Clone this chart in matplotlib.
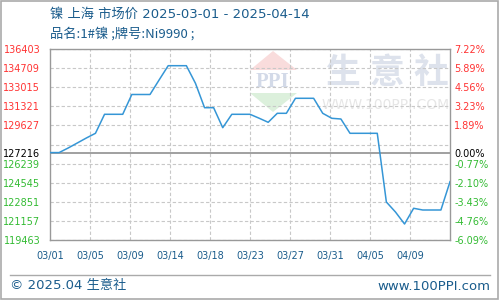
import matplotlib
matplotlib.use("Agg")
import matplotlib.pyplot as plt
from matplotlib.patches import Polygon, Rectangle
from matplotlib.lines import Line2D
import numpy as np

plt.rcParams['font.family'] = ['DejaVu Sans', 'Noto Sans CJK SC']

##### data #####
title = "镍 上海 市场价 2025-03-01 - 2025-04-14"
subtitle = "品名:1#镍 ;牌号:Ni9990 ;"
# daily prices 03/01 .. 04/14 (45 days)
prices = [127216, 127216, 127623, 128066, 128510, 128926, 130612, 130612, 130612,
          132368, 132368, 132368, 133654, 134922, 134922, 134922, 133361, 131197,
          131197, 129423, 130612, 130612, 130612, 130266, 129902, 130700, 130700,
          132031, 132031, 132031, 130700, 130257, 130195, 128926, 128926, 128926,
          128926, 122833, 121947, 120882, 122275, 122124, 122124, 122124, 124634]
base_price = 127216
date_labels = ['03/01', '03/05', '03/09', '03/14', '03/18', '03/23', '03/27', '03/31', '04/05', '04/09']
left_ticks = [136403, 134709, 133015, 131321, 129627, 127216, 126239, 124545, 122851, 121157, 119463]
right_labels = ['7.22%', '5.89%', '4.56%', '3.23%', '1.89%', '0.00%', '-0.77%', '-2.10%', '-3.43%', '-4.76%', '-6.09%']
ymin, ymax = 119463, 136403

blue_txt = '#1a5c8c'
red = '#ff3333'
green = '#33bb33'
gray = '#999999'

W, H = 500, 300
def fx(px):
    return px / W
def fy(py):
    return 1 - py / H

fig = plt.figure(figsize=(5, 3), dpi=100)
ax = fig.add_axes([fx(50), fy(240), fx(400), 191 / H])

x = np.arange(len(prices))
ax.set_xlim(0, len(prices) - 1)
ax.set_ylim(ymin, ymax)

#####watermark#####
tf = fig.transFigure
ax.add_patch(Polygon([(fx(250), fy(70)), (fx(273), fy(51)), (fx(297), fy(70))],
                     closed=True, transform=tf, facecolor='#f9dcdc', edgecolor='none', zorder=0.1))
ax.add_patch(Polygon([(fx(250), fy(93)), (fx(273), fy(112)), (fx(297), fy(93))],
                     closed=True, transform=tf, facecolor='#dcf0dc', edgecolor='none', zorder=0.1))
ax.text(fx(273), fy(82), "PPI", transform=tf, ha='center', va='center', fontsize=15,
        family='Liberation Serif', fontweight='bold', color='#d3dae8', zorder=0.2)
for ch, cx in zip("生意社", [343, 387, 431]):
    ax.text(fx(cx), fy(72), ch, transform=tf, ha='center', va='center', fontsize=25,
            family='Noto Sans CJK SC', fontweight='bold', color='#dde2ec', zorder=0.2)
ax.text(fx(386), fy(105), "WWW.100PPI.COM", transform=tf, ha='center', va='center',
        fontsize=10, color='#e6e6e6', zorder=0.2)

#####grid#####
for v in np.linspace(ymin, ymax, 11):
    ax.axhline(v, color='#c8c8c8', lw=0.8, ls=(0, (3, 2)), zorder=0.5)
tick_pos = [i * 4.4 for i in range(len(date_labels))]
for p in tick_pos[1:]:
    ax.axvline(p, color='#c8c8c8', lw=0.8, ls=(0, (3, 2)), zorder=0.5)
ax.axhline(base_price, color=gray, lw=1.3, zorder=1)

#####line#####
ax.plot(x, prices, color='#3596d6', lw=1.1, zorder=3)

#####axes#####
for s in ax.spines.values():
    s.set_color(gray)
    s.set_linewidth(1.0)
ax.set_xticks(tick_pos)
ax.set_xticklabels(date_labels, fontsize=7, color=blue_txt)
ax.tick_params(axis='x', length=0, pad=8)
ax.set_yticks(left_ticks)
ax.set_yticklabels([str(v) for v in left_ticks], fontsize=7)
ax.tick_params(axis='y', length=0, pad=7)
for lab, v in zip(ax.get_yticklabels(), left_ticks):
    lab.set_color(red if v > base_price else (green if v < base_price else 'black'))

ax2 = ax.twinx()
ax2.set_ylim(ymin, ymax)
ax2.set_yticks(left_ticks)
ax2.set_yticklabels(right_labels, fontsize=7)
ax2.tick_params(axis='y', length=0, pad=3)
for s in ax2.spines.values():
    s.set_visible(False)
for lab, v in zip(ax2.get_yticklabels(), left_ticks):
    lab.set_color(red if v > base_price else (green if v < base_price else 'black'))

#####titles & footer#####
fig.text(fx(50), fy(14), title, fontsize=9.5, color=blue_txt, va='center', ha='left',
         family=['DejaVu Sans', 'Noto Sans CJK SC'])
fig.text(fx(50), fy(34), subtitle, fontsize=9.5, color=blue_txt, va='center', ha='left',
         family=['Noto Sans CJK SC', 'DejaVu Sans'])
fig.add_artist(Line2D([fx(10), fx(490)], [fy(275), fy(275)], color='#aaaaaa', lw=1, transform=tf))
fig.text(fx(10), fy(286), "© 2025.04 生意社", fontsize=9.5, color=blue_txt, va='center', ha='left',
         family=['DejaVu Sans', 'Noto Sans CJK SC'])
fig.text(fx(490), fy(286), "www.100PPI.com", fontsize=9.5, color=blue_txt, va='center', ha='right')
fig.add_artist(Rectangle((0.002, 0.003), 0.994, 0.995, transform=tf, fill=False,
                         edgecolor='#aaaaaa', lw=1.2))

fig.savefig("out.png", dpi=100)
